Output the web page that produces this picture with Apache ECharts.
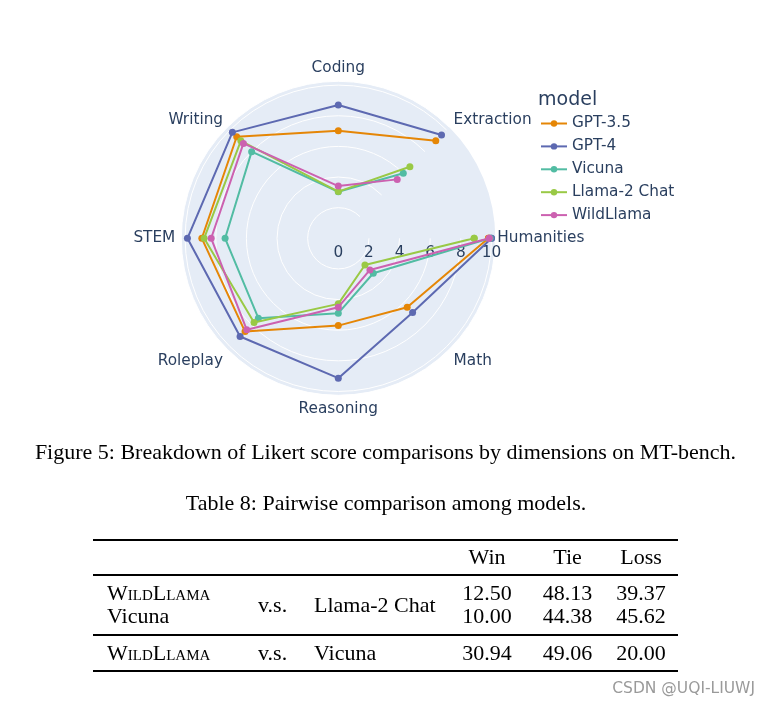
<!DOCTYPE html>
<html><head><meta charset="utf-8">
<script src="https://cdn.jsdelivr.net/npm/echarts@6/dist/echarts.min.js"></script>
<style>
html,body{margin:0;padding:0;background:#fff;width:770px;height:706px;overflow:hidden;}
#chart{position:absolute;left:0;top:0;width:770px;height:706px;}
.t{position:absolute;font-family:"Liberation Serif","Times New Roman",serif;font-size:22px;line-height:22px;color:#000;white-space:nowrap;}
.rule{position:absolute;background:#000;}
.wm{position:absolute;font-family:"DejaVu Sans",sans-serif;font-size:15.5px;color:#9a9a9a;white-space:nowrap;}
</style></head><body>
<div id="chart"></div>
<div id="overlay"></div>
<script>
// ---- data ----
const categories = ['Humanities','Math','Reasoning','Roleplay','STEM','Writing','Coding','Extraction'];
const seriesNames = ['GPT-3.5','GPT-4','Vicuna','Llama-2 Chat','WildLlama'];
const gpt35     = [9.80, 6.36, 5.70, 8.61, 8.91, 9.38, 7.02, 9.00];
const gpt4      = [10.0, 6.86, 9.13, 9.07, 9.85, 9.78, 8.70, 9.53];
const vicuna    = [9.90, 3.23, 4.89, 7.38, 7.39, 8.00, 3.04, 6.00];
const llama2    = [8.87, 2.46, 4.28, 7.78, 8.76, 9.00, 3.05, 6.61];
const wildllama = [9.85, 2.92, 4.50, 8.45, 8.30, 8.76, 3.41, 5.44];
const radialTicks = [0, 2, 4, 6, 8, 10];
const legendTitle = 'model';
const figCaption = 'Figure 5: Breakdown of Likert score comparisons by dimensions on MT-bench.';
const tableCaption = 'Table 8: Pairwise comparison among models.';
const tableHeader = ['Win', 'Tie', 'Loss'];
const tableLeft = ['WildLlama', 'Vicuna', 'WildLlama'];
const tableVs = ['v.s.', 'v.s.'];
const tableOpp = ['Llama-2 Chat', 'Vicuna'];
const winVals  = ['12.50', '10.00', '30.94'];
const tieVals  = ['48.13', '44.38', '49.06'];
const lossVals = ['39.37', '45.62', '20.00'];
const watermark = 'CSDN @UQI-LIUWJ';

// ---- styles ----
const colors = ['rgb(229,134,6)','rgb(93,105,177)','rgb(82,188,163)','rgb(153,201,69)','rgb(204,97,176)'];
const allValues = [gpt35, gpt4, vicuna, llama2, wildllama];
const textColor = '#2a3f5f';
const fontFam = 'DejaVu Sans';
const labelTweaks = {
  'Writing': {lineHeight:5.3},
  'Extraction': {lineHeight:5.3},
  'Humanities': {padding:[0,0,0,-4]}
};

function loop(vals){
  const d = vals.map((v,i)=>[v, categories[i]]);
  d.push([vals[0], categories[0]]);
  return d;
}

const chart = echarts.init(document.getElementById('chart'), null, {renderer:'canvas'});
chart.setOption({
  animation:false,
  backgroundColor:'transparent',
  polar:{center:[338.3,238.3], radius:157},
  angleAxis:{
    type:'category', startAngle:0, clockwise:true, boundaryGap:false, z:0,
    data:categories.map(c=>labelTweaks[c] ? {value:c, textStyle:labelTweaks[c]} : c),
    axisLine:{show:false}, axisTick:{show:false},
    axisLabel:{color:textColor, fontFamily:fontFam, fontSize:15.3, margin:6},
    splitLine:{show:true, lineStyle:{color:'#fff', width:1}},
    splitArea:{show:true, areaStyle:{color:['#E5ECF6']}}
  },
  radiusAxis:{
    type:'value', min:0, max:10.25, interval:2, z:1,
    axisLine:{show:false}, axisTick:{show:false},
    axisLabel:{color:textColor, fontFamily:fontFam, fontSize:15.3, margin:-7.5,
      verticalAlign:'top', align:'center',
      showMaxLabel:false,
      formatter:function(v){ return radialTicks.indexOf(v) >= 0 ? String(v) : ''; }},
    splitLine:{show:true, lineStyle:{color:'#fff', width:1}},
    splitArea:{show:false}
  },
  legend:{
    orient:'vertical', left:540, top:116, itemWidth:26, itemHeight:8, itemGap:7.9,
    padding:0,
    data:seriesNames,
    textStyle:{color:textColor, fontFamily:fontFam, fontSize:15.3}
  },
  graphic:[
    {type:'text', left:538, top:91, style:{text:legendTitle, fill:textColor, font:'19px "DejaVu Sans"'}}
  ],
  series: seriesNames.map((n,i)=>({
    name:n, type:'line', coordinateSystem:'polar',
    data:loop(allValues[i]),
    symbol:'circle', symbolSize:7,
    lineStyle:{width:2, color:colors[i]},
    itemStyle:{color:colors[i]},
    z:2+i
  }))
});

// ---- overlay text / table ----
const ov = document.getElementById('overlay');
function place(text, x, baseline, align, cls, extra){
  const el = document.createElement('div');
  el.className = cls || 't';
  el.textContent = text;
  el.style.left = x + 'px';
  el.style.top = (baseline - 18.4) + 'px';
  if (align === 'center') el.style.transform = 'translateX(-50%)';
  if (align === 'right') el.style.transform = 'translateX(-100%)';
  if (extra) Object.assign(el.style, extra);
  ov.appendChild(el);
  return el;
}
function rule(y, h){
  const el = document.createElement('div');
  el.className = 'rule';
  el.style.left = '93px'; el.style.width = '585px';
  el.style.top = (y - h/2) + 'px'; el.style.height = h + 'px';
  ov.appendChild(el);
}
place(figCaption, 385.5, 459, 'center');
place(tableCaption, 386, 510, 'center');
rule(540, 1.8); rule(575, 1.3); rule(635, 1.3); rule(671, 1.8);
const colX = [487, 567.5, 641];
tableHeader.forEach((h,i)=>place(h, colX[i], 564.5, 'center'));
const rowBase = [600.5, 623.5, 660.5];
tableLeft.forEach((s,i)=>place(s, 107, rowBase[i], 'left', 't', s==='WildLlama'?{fontVariant:'small-caps'}:null));
place(tableVs[0], 258, 612, 'left');
place(tableOpp[0], 314, 612, 'left');
place(tableVs[1], 258, rowBase[2], 'left');
place(tableOpp[1], 314, rowBase[2], 'left');
[winVals, tieVals, lossVals].forEach((col,ci)=>col.forEach((v,ri)=>place(v, colX[ci], rowBase[ri], 'center')));
const wm = document.createElement('div');
wm.className = 'wm'; wm.textContent = watermark;
wm.style.right = '15px'; wm.style.top = '679px';
ov.appendChild(wm);
</script>
</body></html>
